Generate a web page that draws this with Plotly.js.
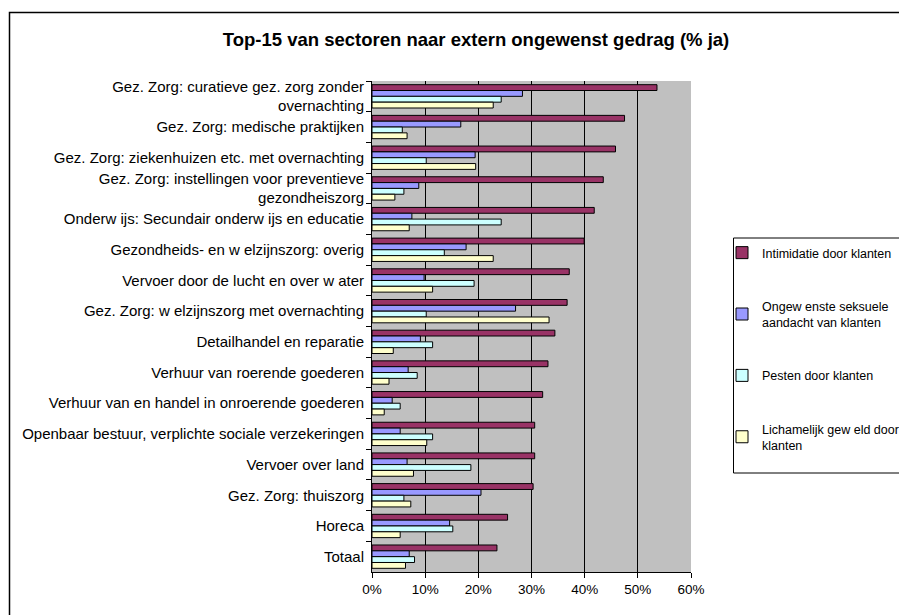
<!DOCTYPE html>
<html>
<head>
<meta charset="utf-8">
<script src="https://cdn.plot.ly/plotly-3.0.1.min.js"></script>
<style>
  html, body { margin: 0; padding: 0; background: #ffffff; }
  #chart { width: 899px; height: 615px; }
</style>
</head>
<body>
<div id="chart"></div>
<script>
// Categories, top to bottom
const categories = [
  "Gez. Zorg: curatieve gez. zorg zonder<br>overnachting",
  "Gez. Zorg: medische praktijken",
  "Gez. Zorg: ziekenhuizen etc. met overnachting",
  "Gez. Zorg: instellingen voor preventieve<br>gezondheiszorg",
  "Onderw ijs: Secundair onderw ijs en educatie",
  "Gezondheids- en w elzijnszorg: overig",
  "Vervoer door de lucht en over w ater",
  "Gez. Zorg: w elzijnszorg met overnachting",
  "Detailhandel en reparatie",
  "Verhuur van roerende goederen",
  "Verhuur van en handel in onroerende goederen",
  "Openbaar bestuur, verplichte sociale verzekeringen",
  "Vervoer over land",
  "Gez. Zorg: thuiszorg",
  "Horeca",
  "Totaal"
];

const seriesNames = [
  "Intimidatie door klanten",
  "Ongew enste seksuele<br>aandacht van klanten",
  "Pesten door klanten",
  "Lichamelijk gew eld door<br>klanten"
];

const intimidatie = [53.6, 47.5, 45.8, 43.5, 41.8, 39.9, 37.1, 36.7, 34.4, 33.1, 32.1, 30.6, 30.6, 30.3, 25.5, 23.5];
const seksueel    = [28.3, 16.7, 19.4, 8.8, 7.5, 17.7, 9.8, 27.0, 9.1, 6.8, 3.8, 5.3, 6.6, 20.5, 14.6, 7.0];
const pesten      = [24.3, 5.7, 10.2, 6.0, 24.3, 13.6, 19.2, 10.2, 11.4, 8.5, 5.3, 11.4, 18.6, 6.0, 15.2, 8.0];
const geweld      = [22.8, 6.6, 19.5, 4.3, 7.0, 22.8, 11.4, 33.3, 4.0, 3.2, 2.3, 10.3, 7.8, 7.3, 5.3, 6.3];

const xTickVals = [0, 10, 20, 30, 40, 50, 60];
const xTickText = ["0%", "10%", "20%", "30%", "40%", "50%", "60%"];

const colors = ["#993366", "#9999FF", "#CCFFFF", "#FFFFCC"];
const values = [intimidatie, seksueel, pesten, geweld];

const traces = values.map((v, i) => ({
  type: "bar",
  orientation: "h",
  name: seriesNames[i],
  legendgroup: "g" + i,
  x: v,
  y: categories,
  marker: { color: colors[i], line: { color: "#000000", width: 1 } },
  hoverinfo: "x+y"
}));

// pixel geometry helpers
const W = 899, H = 615;
const L = 372, R = 691, T = 81, B = 572;
const px2x = p => (p - L) / (R - L);
const px2y = p => (B - p) / (B - T);

const layout = {
  width: W, height: H,
  margin: { l: L, r: W - R, t: T, b: H - B, pad: 0, autoexpand: false },
  paper_bgcolor: "#ffffff",
  plot_bgcolor: "#C0C0C0",
  font: { family: "Liberation Sans, Arial, sans-serif", size: 15, color: "#000000" },
  title: {
    text: "<b>Top-15 van sectoren naar extern ongewenst gedrag (% ja)</b>",
    font: { family: "Liberation Sans, Arial, sans-serif", size: 18.5, color: "#000000" },
    x: 476 / W, xanchor: "center", xref: "container",
    y: 1 - 40 / H, yanchor: "middle", yref: "container"
  },
  barmode: "group",
  bargap: 0.24,
  bargroupgap: 0,
  xaxis: {
    range: [0, 60],
    tickvals: xTickVals,
    ticktext: xTickText,
    showgrid: true,
    gridcolor: "#000000",
    gridwidth: 1,
    zeroline: false,
    showline: true,
    linecolor: "#000000",
    linewidth: 1,
    ticks: "outside",
    ticklen: 5,
    tickcolor: "#000000",
    tickfont: { size: 13.5 },
    fixedrange: true
  },
  yaxis: {
    type: "category",
    autorange: "reversed",
    showgrid: false,
    zeroline: false,
    showline: true,
    linecolor: "#000000",
    linewidth: 1,
    ticks: "outside",
    tickson: "boundaries",
    ticklen: 5,
    tickcolor: "#000000",
    tickfont: { size: 15 },
    ticklabelstandoff: 4,
    fixedrange: true
  },
  legend: {
    x: px2x(722), xanchor: "left",
    y: px2y(238), yanchor: "top",
    bgcolor: "rgba(0,0,0,0)",
    borderwidth: 0,
    traceorder: "grouped",
    tracegroupgap: 34,
    font: { size: 12.5, color: "#000000" }
  },
  shapes: [
    {
      type: "rect", xref: "paper", yref: "paper",
      x0: px2x(9.5), x1: px2x(960), y0: px2y(640), y1: px2y(12.5),
      line: { color: "#000000", width: 1.5 },
      fillcolor: "rgba(0,0,0,0)",
      layer: "below"
    },
    {
      type: "rect", xref: "paper", yref: "paper",
      x0: px2x(733.5), x1: px2x(960), y0: px2y(473), y1: px2y(238),
      line: { color: "#000000", width: 1 },
      fillcolor: "#ffffff",
      layer: "below"
    }
  ],
  showlegend: true
};

Plotly.newPlot("chart", traces, layout, { displayModeBar: false, staticPlot: true });
</script>
</body>
</html>
